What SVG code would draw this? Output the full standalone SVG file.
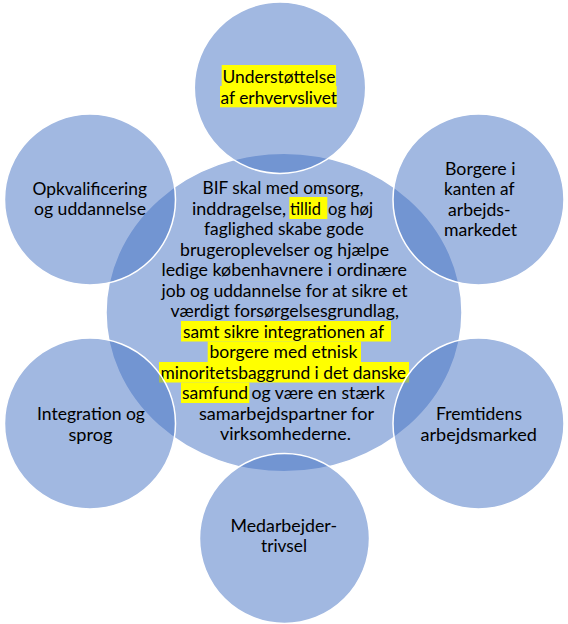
<svg xmlns="http://www.w3.org/2000/svg" width="568" height="624" viewBox="0 0 568 624">
<style>
.c{fill:#4472C4;fill-opacity:0.5;stroke:#FFFFFF;stroke-width:1.5}
.t{font-family:Lato,"Liberation Sans",sans-serif;font-size:16.5px;fill:#000000}
.hl{fill:#FFFF00}
</style>
<rect width="568" height="624" fill="#FFFFFF"/>
<g id="center">
<ellipse class="c" cx="284" cy="312.5" rx="178" ry="159.3"/>
<rect class="hl" x="289.3" y="197" width="38" height="22"/>
<rect class="hl" x="181" y="321" width="210" height="20.5"/>
<rect class="hl" x="207.7" y="341.5" width="153.3" height="20.5"/>
<rect class="hl" x="159" y="362" width="250" height="20.5"/>
<rect class="hl" x="181" y="382.5" width="68.3" height="20.5"/>
<text class="t" x="202.5" y="194" textLength="161" lengthAdjust="spacingAndGlyphs">BIF skal med omsorg,</text>
<text class="t" x="192" y="214.5" textLength="94" lengthAdjust="spacingAndGlyphs">inddragelse,</text>
<text class="t" x="290" y="214.5" textLength="31" lengthAdjust="spacingAndGlyphs">tillid</text>
<text class="t" x="328" y="214.5" textLength="45" lengthAdjust="spacingAndGlyphs">og høj</text>
<text class="t" x="204" y="235" textLength="160" lengthAdjust="spacingAndGlyphs">faglighed skabe gode</text>
<text class="t" x="180" y="255.5" textLength="209" lengthAdjust="spacingAndGlyphs">brugeroplevelser og hjælpe</text>
<text class="t" x="161.5" y="276" textLength="245.5" lengthAdjust="spacingAndGlyphs">ledige københavnere i ordinære</text>
<text class="t" x="161.5" y="296.5" textLength="246" lengthAdjust="spacingAndGlyphs">job og uddannelse for at sikre et</text>
<text class="t" x="170.5" y="317" textLength="228.5" lengthAdjust="spacingAndGlyphs">værdigt forsørgelsesgrundlag,</text>
<text class="t" x="183" y="337.5" textLength="201" lengthAdjust="spacingAndGlyphs">samt sikre integrationen af</text>
<text class="t" x="209.5" y="358" textLength="148" lengthAdjust="spacingAndGlyphs">borgere med etnisk</text>
<text class="t" x="160.5" y="378.5" textLength="245.5" lengthAdjust="spacingAndGlyphs">minoritetsbaggrund i det danske</text>
<text class="t" x="182" y="399" textLength="66" lengthAdjust="spacingAndGlyphs">samfund</text>
<text class="t" x="251.5" y="399" textLength="133.5" lengthAdjust="spacingAndGlyphs">og være en stærk</text>
<text class="t" x="199" y="419.5" textLength="175" lengthAdjust="spacingAndGlyphs">samarbejdspartner for</text>
<text class="t" x="220" y="440" textLength="131" lengthAdjust="spacingAndGlyphs">virksomhederne.</text>
</g>
<g id="top">
<circle class="c" cx="280" cy="87.7" r="85.7"/>
<rect class="hl" x="221.7" y="65" width="114.3" height="21"/>
<rect class="hl" x="220" y="86" width="116.7" height="21.3"/>
<text class="t" x="222.5" y="83.3" textLength="113" lengthAdjust="spacingAndGlyphs">Understøttelse</text>
<text class="t" x="220.5" y="103.5" textLength="116.5" lengthAdjust="spacingAndGlyphs">af erhvervslivet</text>
</g>
<g id="top-right">
<circle class="c" cx="478.5" cy="199.5" r="85.5"/>
<text class="t" x="445" y="175" textLength="70.5" lengthAdjust="spacingAndGlyphs">Borgere i</text>
<text class="t" x="444" y="195.3" textLength="70.5" lengthAdjust="spacingAndGlyphs">kanten af</text>
<text class="t" x="448" y="215.6" textLength="62.5" lengthAdjust="spacingAndGlyphs">arbejds-</text>
<text class="t" x="444" y="236" textLength="73" lengthAdjust="spacingAndGlyphs">markedet</text>
</g>
<g id="bottom-right">
<circle class="c" cx="478.5" cy="423.5" r="85.5"/>
<text class="t" x="436" y="420" textLength="86" lengthAdjust="spacingAndGlyphs">Fremtidens</text>
<text class="t" x="420.5" y="440.5" textLength="116.5" lengthAdjust="spacingAndGlyphs">arbejdsmarked</text>
</g>
<g id="bottom">
<circle class="c" cx="284.5" cy="538.5" r="85"/>
<text class="t" x="230.5" y="531.7" textLength="106.5" lengthAdjust="spacingAndGlyphs">Medarbejder-</text>
<text class="t" x="261" y="552" textLength="46" lengthAdjust="spacingAndGlyphs">trivsel</text>
</g>
<g id="bottom-left">
<circle class="c" cx="90" cy="423.5" r="85.5"/>
<text class="t" x="37" y="420.3" textLength="108" lengthAdjust="spacingAndGlyphs">Integration og</text>
<text class="t" x="68.5" y="440.5" textLength="44" lengthAdjust="spacingAndGlyphs">sprog</text>
</g>
<g id="top-left">
<circle class="c" cx="90" cy="199.5" r="85.5"/>
<text class="t" x="32.5" y="194.5" textLength="114.5" lengthAdjust="spacingAndGlyphs">Opkvalificering</text>
<text class="t" x="34" y="215" textLength="112" lengthAdjust="spacingAndGlyphs">og uddannelse</text>
</g>
</svg>
